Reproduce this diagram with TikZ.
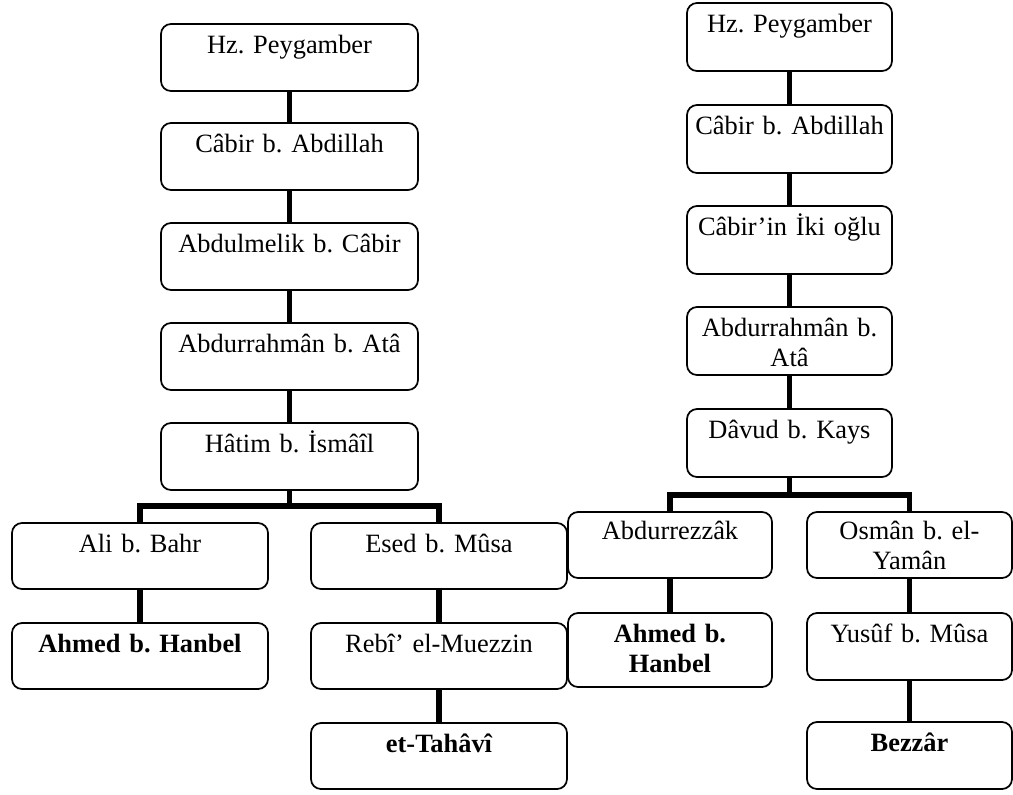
\documentclass[tikz,border=0pt]{standalone}
\usepackage{fontspec}
\setmainfont{Liberation Serif}
\frenchspacing
\begin{document}
\begin{tikzpicture}[x=0.75pt,y=-0.75pt,
  box/.style={draw, line width=1.3pt, rounded corners=7.5pt, inner sep=0pt,
    minimum width=#1},
  box/.default=192.75pt,
  tall/.style={minimum height=#1},
  txt/.style={anchor=base, yshift=-23pt, inner sep=0pt, text width=150pt,
    align=center, font=\fontsize{19.8}{22.5}\selectfont\frenchspacing},
  conn/.style={line width=4pt}]
\useasboundingbox (0,0) rectangle (1013,794);

% ---- first chain ----
\node[box, tall=50.25pt] (L1) at (289.5,57.5) {};
\node[box, tall=50.25pt] (L2) at (289.5,156.5) {};
\node[box, tall=50.25pt] (L3) at (289.5,256.5) {};
\node[box, tall=50.25pt] (L4) at (289.5,356.5) {};
\node[box, tall=50.25pt] (L5) at (289.5,456.5) {};
\node[box=192pt, tall=49.5pt] (La1) at (140,556) {};
\node[box=192pt, tall=49.5pt] (La2) at (140,656) {};
\node[box=192pt, tall=49.5pt] (Lb1) at (439,556) {};
\node[box=192pt, tall=49.5pt] (Lb2) at (439,656) {};
\node[box=192pt, tall=49.5pt] (Lb3) at (439,756) {};

\node[txt] at (L1.north) {Hz. Peygamber};
\node[txt, text width=190pt] at (L2.north) {Câbir b. Abdillah};
\node[txt, text width=190pt] at (L3.north) {Abdulmelik b. Câbir};
\node[txt, text width=190pt] at (L4.north) {Abdurrahmân b. Atâ};
\node[txt, text width=190pt] at (L5.north) {Hâtim b. İsmâîl};
\node[txt, text width=190pt] at (La1.north) {Ali b. Bahr};
\node[txt, text width=190pt] at (La2.north) {\bfseries Ahmed b. Hanbel};
\node[txt, text width=190pt] at (Lb1.north) {Esed b. Mûsa};
\node[txt, text width=190pt] at (Lb2.north) {Rebî’ el-Muezzin};
\node[txt, text width=190pt] at (Lb3.north) {\bfseries et-Tahâvî};

\coordinate (Lj) at (289.5,506);
\draw[conn] (L1) -- (L2);
\draw[conn] (L2) -- (L3);
\draw[conn] (L3) -- (L4);
\draw[conn] (L4) -- (L5);
\draw[conn] (L5.south) -- (Lj);
\draw[conn] (La1.north) |- (Lj) -| (Lb1.north);
\draw[conn] (La1) -- (La2);
\draw[conn] (Lb1) -- (Lb2);
\draw[conn] (Lb2) -- (Lb3);

% ---- second chain ----
\node[box=153.75pt, tall=51pt] (R1) at (789.5,37) {};
\node[box=153.75pt, tall=51pt] (R2) at (789.5,139) {};
\node[box=153.75pt, tall=51pt] (R3) at (789.5,240) {};
\node[box=153.75pt, tall=51pt] (R4) at (789.5,341) {};
\node[box=153.75pt, tall=51pt] (R5) at (789.5,443) {};
\node[box=153pt, tall=49.5pt] (Ra1) at (670,545) {};
\node[box=153pt, tall=55.5pt] (Ra2) at (670,650) {};
\node[box=153.75pt, tall=49.5pt] (Rb1) at (909.5,545) {};
\node[box=153.75pt, tall=50.25pt] (Rb2) at (909.5,646.5) {};
\node[box=153.75pt, tall=50.25pt] (Rb3) at (909.5,755.5) {};

\node[txt] at (R1.north) {Hz. Peygamber};
\node[txt] at (R2.north) {Câbir b. Abdillah};
\node[txt] at (R3.north) {Câbir’in İki oğlu};
\node[txt] at (R4.north) {Abdurrahmân b.\\Atâ};
\node[txt] at (R5.north) {Dâvud b. Kays};
\node[txt, yshift=1.5pt] at (Ra1.north) {Abdurrezzâk};
\node[txt] at (Ra2.north) {\bfseries Ahmed b.\\\bfseries Hanbel};
\node[txt, yshift=1.5pt] at (Rb1.north) {Osmân b. el-\\Yamân};
\node[txt] at (Rb2.north) {Yusûf b. Mûsa};
\node[txt] at (Rb3.north) {\bfseries Bezzâr};

\coordinate (Rj) at (789.5,495);
\draw[conn] (R1) -- (R2);
\draw[conn] (R2) -- (R3);
\draw[conn] (R3) -- (R4);
\draw[conn] (R4) -- (R5);
\draw[conn] (R5.south) -- (Rj);
\draw[conn] (Ra1.north) |- (Rj) -| (Rb1.north);
\draw[conn] (Ra1) -- (Ra2);
\draw[conn] (Rb1) -- (Rb2);
\draw[conn] (Rb2) -- (Rb3);
\end{tikzpicture}
\end{document}
